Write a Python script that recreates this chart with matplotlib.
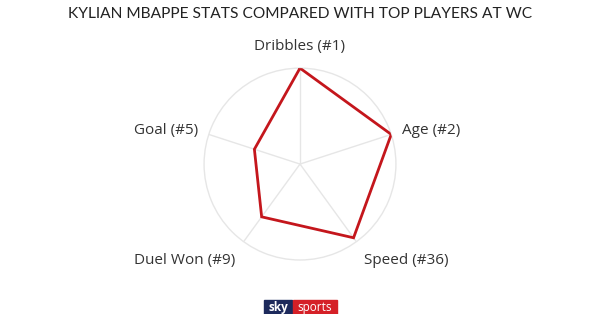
import numpy as np
import matplotlib
matplotlib.use('Agg')
import matplotlib.pyplot as plt
from matplotlib.patches import Rectangle

# data
categories = ["Dribbles (#1)", "Age (#2)", "Speed (#36)", "Duel Won (#9)", "Goal (#5)"]
values = [1.0, 1.0, 0.95, 0.68, 0.50]
title = "KYLIAN MBAPPE STATS COMPARED WITH TOP PLAYERS AT WC"

plt.rcParams['font.family'] = ['Open Sans', 'DejaVu Sans']

fig = plt.figure(figsize=(6, 3.14), dpi=100)
ax = fig.add_axes([0.34, 0.172, 0.32, 0.611], polar=True)
ax.set_theta_offset(np.pi / 2)
ax.set_theta_direction(-1)

n = len(categories)
angles = np.linspace(0, 2 * np.pi, n, endpoint=False)

# spokes
for a in angles:
    ax.plot([a, a], [0, 1], color='#e6e6e6', lw=1, zorder=1)

closed_a = np.append(angles, angles[0])
closed_v = np.append(values, values[0])
ax.plot(closed_a, closed_v, color='#c4161c', lw=2, zorder=3, solid_joinstyle='miter')

ax.set_ylim(0, 1)
ax.set_xticks([])
ax.set_yticks([])
ax.grid(False)
ax.spines['polar'].set_color('#e6e6e6')
ax.spines['polar'].set_linewidth(1)

# labels
lab_style = dict(fontsize=11, color='#333333')
ax.text(angles[0], 1.23, categories[0], ha='center', va='center', **lab_style)
ax.text(angles[1], 1.12, categories[1], ha='left', va='center', **lab_style)
ax.text(angles[2], 1.14, categories[2], ha='left', va='top', **lab_style)
ax.text(angles[3], 1.14, categories[3], ha='right', va='top', **lab_style)
ax.text(angles[4], 1.12, categories[4], ha='right', va='center', **lab_style)

fig.text(0.5, 0.955, title, ha='center', va='center', fontsize=11.2, color='#222222',
         family=['Lato', 'DejaVu Sans'])

# sky sports logo
fig.patches.append(Rectangle((264 / 600, 0), 28 / 600, 14 / 314, transform=fig.transFigure,
                             color='#1d2a5c', zorder=5))
fig.patches.append(Rectangle((293 / 600, 0), 44 / 600, 14 / 314, transform=fig.transFigure,
                             color='#d52027', zorder=5))
fig.text(278 / 600, 7 / 314, "sky", ha='center', va='center', fontsize=8.5,
         fontweight='bold', color='white', zorder=6)
fig.text(315 / 600, 7 / 314, "sports", ha='center', va='center', fontsize=8.5,
         color='white', zorder=6)

plt.savefig('out.png', dpi=100)
plt.close()
